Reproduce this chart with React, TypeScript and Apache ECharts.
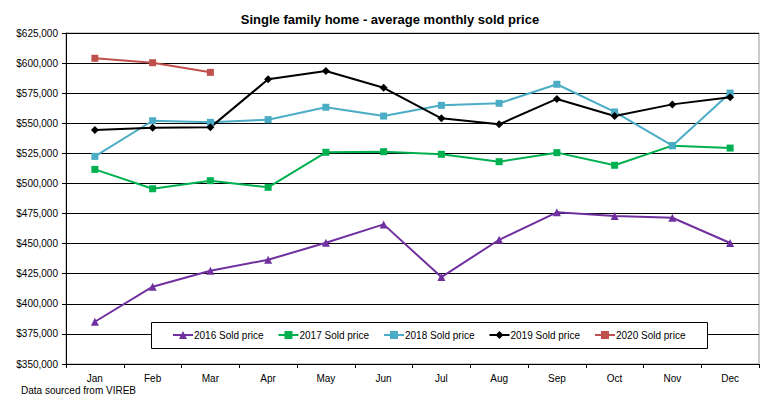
import React, { useEffect, useRef } from "react";
import * as echarts from "echarts";

const months = ["Jan", "Feb", "Mar", "Apr", "May", "Jun", "Jul", "Aug", "Sep", "Oct", "Nov", "Dec"];
const sold2016 = [385100, 414200, 427500, 436600, 450700, 466000, 422200, 453200, 476000, 472900, 471500, 450500];
const sold2017 = [511700, 495600, 502300, 496800, 525900, 526400, 524200, 518100, 525600, 515100, 531400, 529400];
const sold2018 = [522500, 552100, 550800, 553000, 563300, 556000, 564900, 566600, 582400, 559400, 531400, 575100];
const sold2019 = [544400, 546300, 546600, 586500, 593400, 579500, 554100, 549100, 570200, 556000, 565700, 571600];
const sold2020 = [604000, 600300, 592300];

const FONT = "'Liberation Sans', Arial, sans-serif";

export default function App() {
  const ref = useRef<HTMLDivElement>(null);
  useEffect(() => {
    if (!ref.current) return;
    const chart = echarts.init(ref.current, undefined, { renderer: "svg" });
    const mk = (name: string, data: number[], color: string, symbol: string, size: number) => ({
      name,
      type: "line",
      data,
      symbol,
      symbolSize: size,
      showSymbol: true,
      lineStyle: { color, width: 2 },
      itemStyle: { color },
      z: 3,
    });
    chart.setOption({
      animation: false,
      backgroundColor: "#fff",
      textStyle: { fontFamily: FONT },
      title: {
        text: "Single family home - average monthly sold price",
        left: 385,
        textAlign: "center",
        top: 8,
        textStyle: { fontSize: 13, fontWeight: "bold", color: "#000", fontFamily: FONT },
      },
      graphic: [
        {
          type: "text",
          left: 21,
          top: 385,
          style: { text: "Data sourced from VIREB", fontSize: 10, fill: "#000", fontFamily: FONT },
        },
        {
          type: "rect",
          shape: { x: 151.5, y: 322.5, width: 556, height: 26 },
          style: { fill: "#fff", stroke: "#000", lineWidth: 1 },
          z: 50,
        },
      ],
      legend: {
        left: 151,
        top: 322,
        padding: [8, 0, 8, 21],
        itemGap: 14,
        itemWidth: 20,
        itemHeight: 10,
        textStyle: { fontSize: 10, color: "#000", fontFamily: FONT, padding: [0, 0, 0, -4] },
        data: ["2016 Sold price", "2017 Sold price", "2018 Sold price", "2019 Sold price", "2020 Sold price"],
        z: 60,
      },
      grid: {
        left: 66,
        right: 19,
        top: 33,
        bottom: 34,
        show: true,
        borderColor: "#999",
        borderWidth: 1,
      },
      xAxis: {
        type: "category",
        data: months,
        boundaryGap: true,
        axisLine: { lineStyle: { color: "#000", width: 1 } },
        axisTick: { show: true, length: 4, lineStyle: { color: "#000" } },
        axisLabel: { fontSize: 10, color: "#000", margin: 9, fontFamily: FONT },
        splitLine: { show: false },
      },
      yAxis: {
        type: "value",
        min: 350000,
        max: 625000,
        interval: 25000,
        axisLine: { show: true, lineStyle: { color: "#000", width: 1 } },
        axisTick: { show: true, length: 4, lineStyle: { color: "#000" } },
        axisLabel: {
          fontSize: 10,
          color: "#000",
          margin: 8,
          fontFamily: FONT,
          formatter: (v: number) => "$" + v.toLocaleString("en-US"),
        },
        splitLine: { show: true, lineStyle: { color: "#000", width: 1 } },
      },
      series: [
        mk("2016 Sold price", sold2016, "#7030A0", "triangle", 8),
        mk("2017 Sold price", sold2017, "#00B050", "rect", 7),
        mk("2018 Sold price", sold2018, "#4BACC6", "rect", 7),
        mk("2019 Sold price", sold2019, "#000000", "diamond", 8),
        mk("2020 Sold price", sold2020, "#C0504D", "rect", 7),
      ],
    });
    return () => chart.dispose();
  }, []);
  return <div ref={ref} style={{ width: 778, height: 398, position: "absolute", left: 0, top: 0 }} />;
}
